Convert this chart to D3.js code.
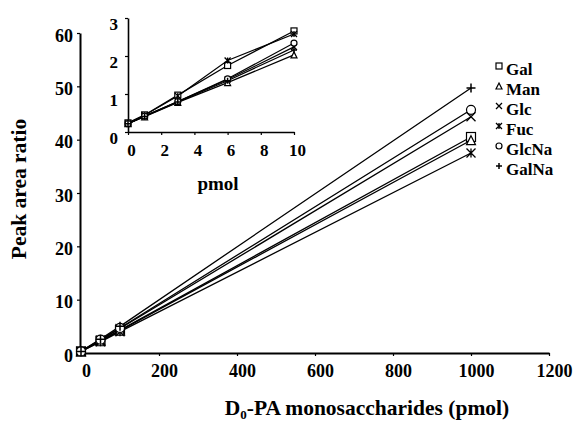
<!DOCTYPE html>
<html><head><meta charset="utf-8">
<script src="https://cdn.jsdelivr.net/npm/d3@7"></script>
<style>body{margin:0;background:#fff}svg{display:block}</style>
</head><body>
<svg id="c" width="576" height="423"></svg>
<script>
// ---- data ----
const seriesNames = ["Gal","Man","Glc","Fuc","GlcNa","GalNa"];
const seriesSymbols = ["square","triangle","cross","star","circle","plus"];
const mainX = [0, 50, 100, 1000];
const mainGal   = [0.3, 2.3, 4.3, 40.5];
const mainMan   = [0.3, 2.2, 4.2, 39.9];
const mainGlc   = [0.3, 2.4, 4.6, 44.3];
const mainFuc   = [0.3, 2.1, 4.0, 37.5];
const mainGlcNa = [0.3, 2.5, 4.7, 45.6];
const mainGalNa = [0.3, 2.6, 5.0, 49.7];
const insetX = [0, 1, 3, 6, 10];
const insetGal   = [0.24, 0.45, 0.97, 1.75, 2.66];
const insetMan   = [0.22, 0.40, 0.78, 1.30, 2.03];
const insetGlc   = [0.22, 0.42, 0.80, 1.38, 2.24];
const insetFuc   = [0.22, 0.44, 0.95, 1.88, 2.58];
const insetGlcNa = [0.22, 0.42, 0.80, 1.40, 2.34];
const insetGalNa = [0.22, 0.41, 0.79, 1.35, 2.16];
const mainXTicks = [0,200,400,600,800,1000,1200];
const mainYTicks = [0,10,20,30,40,50,60];
const insetXTicks = [0,2,4,6,8,10];
const insetYTicks = [0,1,2,3];

const mainSeries = [mainGal,mainMan,mainGlc,mainFuc,mainGlcNa,mainGalNa];
const insetSeries = [insetGal,insetMan,insetGlc,insetFuc,insetGlcNa,insetGalNa];

const FONT = "Liberation Serif";
const svg = d3.select("#c");

function marker(g, type, x, y, s) {
  const h = s/2;
  if (type==="square") g.append("rect").attr("x",x-h).attr("y",y-h).attr("width",s).attr("height",s).attr("fill","#fff").attr("stroke","#000").attr("stroke-width",1.2);
  else if (type==="triangle") g.append("path").attr("d",`M${x},${y-h}L${x+h},${y+h}L${x-h},${y+h}Z`).attr("fill","#fff").attr("stroke","#000").attr("stroke-width",1.2);
  else if (type==="circle") g.append("circle").attr("cx",x).attr("cy",y).attr("r",h).attr("fill","#fff").attr("stroke","#000").attr("stroke-width",1.2);
  else if (type==="cross") g.append("path").attr("d",`M${x-h},${y-h}L${x+h},${y+h}M${x+h},${y-h}L${x-h},${y+h}`).attr("stroke","#000").attr("stroke-width",1.3);
  else if (type==="star") g.append("path").attr("d",`M${x-h},${y-h}L${x+h},${y+h}M${x+h},${y-h}L${x-h},${y+h}M${x},${y-h}L${x},${y+h}`).attr("stroke","#000").attr("stroke-width",1.3);
  else if (type==="plus") g.append("path").attr("d",`M${x-h},${y}L${x+h},${y}M${x},${y-h}L${x},${y+h}`).attr("stroke","#000").attr("stroke-width",1.5);
}
function styleText(sel, size) {
  sel.attr("font-family",FONT).attr("font-weight","bold").attr("font-size",size).attr("fill","#000");
}

// ---- main chart ----
const xM = d3.scaleLinear().domain([0,1200]).range([81,549]);
const yM = d3.scaleLinear().domain([0,60]).range([353,33]);

const gx = svg.append("g").attr("transform","translate(0,353)")
  .call(d3.axisBottom(xM).tickValues(mainXTicks).tickSize(3).tickSizeOuter(0).tickFormat(d3.format("d")));
gx.attr("font-family",FONT);
styleText(gx.selectAll("text"),18); gx.selectAll("text").attr("dy","1.0em").attr("dx",5);
const gy = svg.append("g").attr("transform","translate(80,0)")
  .call(d3.axisLeft(yM).tickValues(mainYTicks).tickSize(3).tickSizeOuter(0));
gy.attr("font-family",FONT);
styleText(gy.selectAll("text"),18); gy.selectAll("text").attr("dx",-1).attr("dy","0.45em");
svg.selectAll(".domain").attr("stroke","#000").attr("stroke-width",2);
svg.selectAll(".tick line").attr("stroke","#000").attr("stroke-width",1.2);

const line = (xs, xsc, ysc) => d3.line().x((d,i)=>xsc(xs[i])).y(d=>ysc(d));
const mg = svg.append("g");
mainSeries.forEach((s,k)=>{
  mg.append("path").attr("d",line(mainX,xM,yM)(s)).attr("fill","none").attr("stroke","#000").attr("stroke-width",1.3);
});
mainSeries.forEach((s,k)=>{
  s.forEach((v,i)=> marker(mg, seriesSymbols[k], xM(mainX[i]), yM(v), 9));
});

const xt = svg.append("text").attr("x",367).attr("y",415).attr("text-anchor","middle");
styleText(xt,21.5);
xt.append("tspan").text("D");
xt.append("tspan").attr("font-size",13).attr("dy",4).text("0");
xt.append("tspan").attr("dy",-4).text("-PA monosaccharides (pmol)");
const yt = svg.append("text").attr("transform","translate(26,189) rotate(-90)").attr("text-anchor","middle").text("Peak area ratio");
styleText(yt,21.5);

// ---- legend ----
const lg = svg.append("g");
seriesNames.forEach((n,k)=>{
  const y = 70 + k*20;
  marker(lg, seriesSymbols[k], 499, y-4, 6);
  styleText(lg.append("text").attr("x",506).attr("y",y+5).text(n),17);
});

// ---- inset ----
const xI = d3.scaleLinear().domain([0,10]).range([128,294]);
const yI = d3.scaleLinear().domain([0,3]).range([132,18]);
const ig = svg.append("g");
const ix = ig.append("g").attr("transform","translate(0,132)")
  .call(d3.axisBottom(xI).tickValues(insetXTicks).tickSize(3).tickSizeOuter(0).tickFormat(d3.format("d")));
ix.attr("font-family",FONT);
styleText(ix.selectAll("text"),17); ix.selectAll("text").attr("dy","1.05em").attr("dx",3);
const iy = ig.append("g").attr("transform","translate(128,0)")
  .call(d3.axisLeft(yI).tickValues(insetYTicks).tickSize(3).tickSizeOuter(0).tickFormat(d3.format("d")));
iy.attr("font-family",FONT);
styleText(iy.selectAll("text"),17); iy.selectAll("text").attr("dx",-4).attr("dy","0.7em");
ig.selectAll(".domain").attr("stroke","#000").attr("stroke-width",1.6);
ig.selectAll(".tick line").attr("stroke","#000").attr("stroke-width",1.2);
insetSeries.forEach((s,k)=>{
  ig.append("path").attr("d",line(insetX,xI,yI)(s)).attr("fill","none").attr("stroke","#000").attr("stroke-width",1.2);
});
insetSeries.forEach((s,k)=>{
  s.forEach((v,i)=> marker(ig, seriesSymbols[k], xI(insetX[i]), yI(v), 6));
});
styleText(ig.append("text").attr("x",218).attr("y",190).attr("text-anchor","middle").text("pmol"),19);
</script>
</body></html>
